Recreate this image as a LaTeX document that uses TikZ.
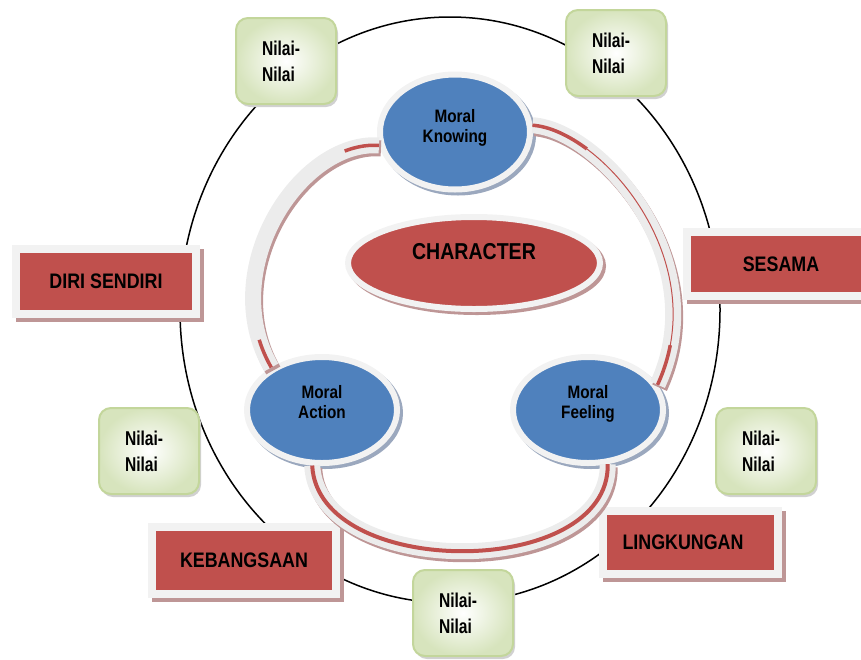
\documentclass[tikz,border=0pt]{standalone}
\usepackage{fontspec}
\setmainfont{Liberation Sans}[FakeStretch=0.85]
\newfontfamily\nilaifont{Liberation Sans}[FakeStretch=0.78]
\usetikzlibrary{shapes.geometric}

\definecolor{moralblue}{HTML}{4F81BD}
\definecolor{boxred}{HTML}{C0504D}
\definecolor{rimgray}{HTML}{F2F2F2}
\definecolor{bandgray}{HTML}{ECECEC}
\definecolor{shadowred}{RGB}{190,150,150}
\definecolor{shadowblue}{RGB}{155,168,190}
\definecolor{nilaiedge}{HTML}{C3D69B}
\definecolor{nilaiglow}{HTML}{D7E4BD}

\tikzset{
    moral/.style={ellipse, fill=moralblue, draw=rimgray, line width=6pt,
        inner sep=0pt, minimum width=150pt, minimum height=106pt, align=center,
        font=\bfseries\fontsize{18}{23}\selectfont,
        preaction={fill=shadowblue, draw=shadowblue, line width=6pt,
            transform canvas={shift={(3pt,-3pt)}}}},
    redbox/.style={rectangle, fill=boxred, draw=rimgray, line width=8pt,
        inner sep=0pt, font=\bfseries\fontsize{21}{25}\selectfont,
        preaction={fill=shadowred, draw=shadowred, line width=8pt,
            transform canvas={shift={(4pt,-4pt)}}}},
    nilai/.style={rectangle, rounded corners=12pt, draw=nilaiedge, line width=2pt,
        inner color=white, outer color=nilaiglow, minimum width=100pt,
        minimum height=86pt, align=left, inner sep=0pt,
        font=\nilaifont\bfseries\fontsize{20}{26}\selectfont,
        preaction={fill=black!18, draw=none, transform canvas={shift={(2pt,-3pt)}}}},
    band/.style={draw=bandgray, line width=16pt,
        preaction={draw=shadowred, line width=16pt,
            transform canvas={shift={(2pt,-3pt)}}}},
    core/.style={postaction={draw=boxred, line width=#1}},
    ribbon ends/.style={postaction={draw=boxred, line width=3.5pt, dash pattern=#1}}
}

\begin{document}
\begin{tikzpicture}[x=1pt, y=-1pt]
\useasboundingbox (0,0) rectangle (861,659);

% Outer circle
\draw[line width=1.5pt] (450,310) ellipse [x radius=270, y radius=293];

% Red boxes
\node[redbox, minimum width=180pt, minimum height=65pt] (diri) at (106,281) {DIRI SENDIRI};
\node[redbox, minimum width=188pt, minimum height=64pt] (sesama) at (781,264) {SESAMA};
\node[redbox, minimum width=184pt, minimum height=67pt] (bangsa) at (244,560) {KEBANGSAAN};
\node[redbox, minimum width=175pt, minimum height=63pt] (lingkungan) at (690,542) {\hspace*{-14pt}LINGKUNGAN};

% Nilai boxes
\node[nilai] (nilai1) at (286,61) {\raisebox{4pt}{\parbox{48pt}{Nilai-\\Nilai}}};
\node[nilai] (nilai2) at (616,53) {\raisebox{4pt}{\parbox{48pt}{Nilai-\\Nilai}}};
\node[nilai] (nilai3) at (149,451) {\raisebox{4pt}{\parbox{48pt}{Nilai-\\Nilai}}};
\node[nilai] (nilai4) at (766,451) {\raisebox{4pt}{\parbox{48pt}{Nilai-\\Nilai}}};
\node[nilai] (nilai5) at (463,613) {\raisebox{4pt}{\parbox{48pt}{Nilai-\\Nilai}}};

% Moral parts
\node[moral, minimum height=115pt] (know) at (455,132) {\raisebox{12pt}{\shortstack{Moral\\[3pt]Knowing}}};
\node[moral] (action) at (322,410) {\raisebox{16pt}{\shortstack{Moral\\[3pt]Action}}};
\node[moral] (feel) at (588,410) {\raisebox{16pt}{\shortstack{Moral\\[3pt]Feeling}}};

% Character
\node[ellipse, fill=boxred, draw=rimgray, line width=6pt, inner sep=0pt,
    minimum width=252pt, minimum height=92pt,
    font=\bfseries\fontsize{23}{27}\selectfont,
    preaction={fill=shadowred, draw=shadowred, line width=6pt,
        transform canvas={shift={(3pt,-3pt)}}}] (char) at (474,263) {\raisebox{24pt}{CHARACTER}};

% Ribbons
\draw[band, ribbon ends={on 35pt off 225pt on 45pt}] (know.190) .. controls (300,140) and (215,270) .. (action.140);
\draw[band, core=1pt, ribbon ends={on 60pt off 224pt on 50pt}] (know.5) .. controls (600,130) and (715,260) .. (feel.20);
\draw[band, core=4pt] (action.-100) .. controls (318,580) and (610,580) .. (feel.-70);

\end{tikzpicture}
\end{document}
